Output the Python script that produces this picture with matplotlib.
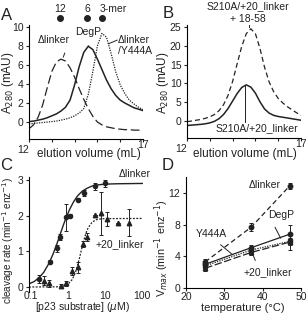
import numpy as np
import matplotlib
matplotlib.use("Agg")
import matplotlib.pyplot as plt

plt.rcParams["font.family"] = ["Liberation Sans", "DejaVu Sans"]
plt.rcParams["font.size"] = 7
plt.rcParams["axes.linewidth"] = 0.8
plt.rcParams["xtick.major.width"] = 0.8
plt.rcParams["ytick.major.width"] = 0.8
plt.rcParams["xtick.major.size"] = 2.5
plt.rcParams["ytick.major.size"] = 2.5
plt.rcParams["xtick.major.pad"] = 1.5
plt.rcParams["ytick.major.pad"] = 1.5

INK = "#222222"

# ---- panel A: gel filtration traces ----
vol = [12.0, 12.2, 12.4, 12.6, 12.8, 13.0, 13.2, 13.4, 13.6, 13.8, 14.0, 14.2, 14.4,
       14.6, 14.8, 15.0, 15.2, 15.4, 15.6, 15.8, 16.0, 16.2, 16.4, 16.6, 16.8, 17.0]
a_dlinker = [-0.7, -0.3, 0.5, 1.8, 3.6, 5.3, 6.3, 6.6, 6.4, 5.7, 4.7, 3.5, 2.4,
             1.4, 0.6, 0.0, -0.3, -0.5, -0.6, -0.7, -0.75, -0.8, -0.8, -0.85, -0.85, -0.85]
a_degp = [0.05, 0.1, 0.2, 0.3, 0.45, 0.65, 0.85, 1.15, 1.55, 2.3, 3.9, 5.8, 7.3,
          7.95, 7.6, 6.6, 5.5, 4.4, 3.5, 2.8, 2.3, 2.0, 1.75, 1.5, 1.35, 1.2]
a_y444a = [-0.2, -0.15, -0.1, -0.05, 0.0, 0.05, 0.1, 0.2, 0.3, 0.45, 0.65, 0.95, 1.4,
           2.9, 5.3, 8.0, 9.3, 8.9, 7.2, 5.3, 3.9, 3.0, 2.3, 1.9, 1.55, 1.3]
std_labels = ["12", "6", "3-mer"]
std_elution = [13.36, 14.54, 15.2]

# ---- panel B ----
b_complex = [-0.2, 0.0, 0.2, 0.4, 0.7, 1.1, 1.7, 2.7, 4.3, 6.8, 10.5, 15.2, 19.8,
             23.2, 24.5, 23.2, 19.3, 14.3, 10.4, 7.8, 6.0, 4.8, 3.8, 3.0, 2.2, 1.5]
b_alone = [-1.2, -1.1, -1.0, -0.9, -0.75, -0.5, -0.1, 0.6, 1.7, 3.3, 5.3, 7.3, 8.9,
           9.6, 9.0, 7.4, 5.1, 3.2, 2.1, 1.5, 1.2, 1.0, 0.8, 0.6, 0.4, 0.2]

# ---- panel C: cleavage rate vs substrate ----
c_dl_x = [0.16, 0.33, 0.5, 0.6, 0.9, 1.15, 1.9, 2.7, 5.5, 10]
c_dl_y = [0.22, 0.71, 1.08, 1.4, 1.95, 2.0, 2.45, 2.63, 2.82, 2.9]
c_dl_err = [0.12, 0.05, 0.1, 0.08, 0.37, 0.05, 0.05, 0.08, 0.1, 0.1]
c_20_x = [0.23, 0.3, 0.65, 0.9, 1.3, 1.8, 2.6, 3.3, 5.3, 7.6, 11, 23, 45]
c_20_y = [0.18, 0.1, 0.03, 0.1, 0.45, 0.55, 1.2, 1.4, 2.02, 2.06, 1.9, 1.78, 1.8]
c_20_err = [0.12, 0.1, 0.05, 0.08, 0.1, 0.15, 0.08, 0.1, 0.0, 0.6, 0.2, 0.0, 0.38]
fit_dl_x = [0.088, 0.12, 0.16, 0.22, 0.3, 0.4, 0.5, 0.6, 0.75, 0.9, 1.1, 1.4, 1.8,
            2.4, 3.2, 4.5, 6.5, 10, 20, 106]
fit_dl_y = [0.09, 0.15, 0.25, 0.41, 0.65, 0.94, 1.21, 1.45, 1.74, 1.96, 2.17, 2.38,
            2.55, 2.68, 2.76, 2.83, 2.86, 2.88, 2.89, 2.9]
fit_20_x = [0.088, 0.5, 0.8, 1.0, 1.3, 1.6, 2.0, 2.5, 3.0, 3.5, 4.5, 6, 8, 12, 106]
fit_20_y = [0.0, 0.005, 0.03, 0.08, 0.21, 0.42, 0.78, 1.2, 1.49, 1.66, 1.82, 1.89,
            1.91, 1.915, 1.92]

# ---- panel D: Vmax vs temperature ----
temps = [25, 37, 47]
d_dlinker = [3.3, 7.7, 12.9]
d_dlinker_err = [0.4, 0.5, 0.4]
d_degp = [3.0, 5.1, 6.8]
d_degp_err = [0.3, 0.3, 1.2]
d_y444a = [2.8, 4.8, 5.9]
d_y444a_err = [0.3, 0.3, 0.4]
d_plus20 = [2.5, 4.5, 5.8]
d_plus20_err = [0.3, 0.3, 1.0]

W, H = 306, 313


def fx(px):
    return px / W


def fy(py):
    return 1 - py / H


def clean(ax):
    ax.spines["top"].set_visible(False)
    ax.spines["right"].set_visible(False)
    ax.tick_params(colors=INK, labelsize=7.5)


fig = plt.figure(figsize=(3.06, 3.13), dpi=100)
fig.patch.set_facecolor("white")

axA = fig.add_axes([fx(29), fy(139), 114 / W, 114 / H])
axB = fig.add_axes([fx(187), fy(138), 114 / W, 113 / H])
axC = fig.add_axes([fx(29), fy(292), 114 / W, 115 / H])
axD = fig.add_axes([fx(186), fy(288), 115 / W, 111 / H])

# A
axA.plot(vol, a_dlinker, color=INK, lw=0.9, ls=(0, (7, 3)))
axA.plot(vol, a_degp, color=INK, lw=1.1)
axA.plot(vol, a_y444a, color=INK, lw=0.9, ls=(0, (1, 1)))
axA.set_xlim(12, 17)
axA.set_ylim(-1.78, 10.18)
axA.set_yticks([0, 2, 4, 6, 8, 10])
axA.set_xticks([12, 13, 14, 15, 16, 17])
axA.set_xticklabels(["12", "", "", "", "", "17"])
clean(axA)
axA.plot(std_elution, [10.9] * 3, "o", color=INK, ms=4, clip_on=False)
for lab, v in zip(std_labels, std_elution):
    if lab == "3-mer":
        axA.text(v - 0.12, 11.85, lab, ha="left", va="center", fontsize=7.5, color=INK)
    else:
        axA.text(v, 11.85, lab, ha="center", va="center", fontsize=7.5, color=INK)
axA.annotate("\u0394linker", xy=(13.5, 6.8), xytext=(13.07, 8.6), ha="center",
             va="center", fontsize=7.5, color=INK,
             arrowprops=dict(arrowstyle="-", color=INK, lw=0.7, shrinkA=4, shrinkB=0,
                             relpos=(0.95, 0)))
axA.annotate("DegP", xy=(14.6, 8.0), xytext=(14.6, 9.4), ha="center", va="center",
             fontsize=7.5, color=INK,
             arrowprops=dict(arrowstyle="-", color=INK, lw=0.7, shrinkA=4, shrinkB=0))
axA.annotate("", xy=(15.48, 8.2), xytext=(15.87, 8.6),
             arrowprops=dict(arrowstyle="-", color=INK, lw=0.7, shrinkA=0, shrinkB=0))
axA.text(15.9, 8.6, "\u0394linker", ha="left", va="center", fontsize=7.5, color=INK)
axA.text(15.9, 7.4, "/Y444A", ha="left", va="center", fontsize=7.5, color=INK)

# B
axB.plot(vol, b_complex, color=INK, lw=0.9, ls=(0, (4, 2.5)))
axB.plot(vol, b_alone, color=INK, lw=1.1)
axB.set_xlim(12, 17)
axB.set_ylim(-4.52, 25.5)
axB.set_yticks([0, 5, 10, 15, 20, 25])
axB.set_xticks([12, 13, 14, 15, 16, 17])
axB.set_xticklabels(["12", "", "", "", "", "17"])
clean(axB)
axB.text(14.66, 30.6, "S210A/+20_linker", ha="center", va="center", fontsize=7.5, color=INK)
axB.text(14.66, 27.1, "+ 18-58", ha="center", va="center", fontsize=7.5, color=INK)
axB.plot([14.72, 14.72], [25.6, 24.9], color=INK, lw=0.7, clip_on=False)
axB.plot([14.55, 14.55], [9.2, -0.3], color=INK, lw=0.7)
axB.text(15.05, -1.9, "S210A/+20_linker", ha="center", va="center", fontsize=7.5, color=INK)

for ax in (axA, axB):
    labs = ax.get_xticklabels()
    labs[-1].set_verticalalignment("center")
    labs[0].set_horizontalalignment("right")

# C
axC.set_xscale("log")
axC.plot(fit_dl_x, fit_dl_y, color=INK, lw=1.0)
axC.plot(fit_20_x, fit_20_y, color=INK, lw=0.9, ls=(0, (1.5, 1.2)))
axC.errorbar(c_dl_x, c_dl_y, yerr=c_dl_err, fmt="o", color=INK, ms=3, lw=0.7,
             capsize=1.5, capthick=0.7)
axC.errorbar(c_20_x, c_20_y, yerr=c_20_err, fmt="^", color=INK, ms=3.2, lw=0.7,
             capsize=1.5, capthick=0.7)
axC.set_xlim(0.088, 106)
axC.set_ylim(-0.14, 3.08)
axC.set_yticks([0, 1, 2, 3])
axC.set_xticks([0.1, 1, 10, 100])
axC.set_xticklabels(["0.1", "1", "10", "100"])
axC.minorticks_off()
clean(axC)
axC.spines["bottom"].set_visible(False)
axC.tick_params(axis="x", length=0, pad=-0.5, labelsize=7.5)
axC.text(65, 3.17, "\u0394linker", ha="center", va="center", fontsize=7.5, color=INK)
axC.text(25, 1.2, "+20_linker", ha="center", va="center", fontsize=7.5, color=INK)

# D
axD.errorbar(temps, d_dlinker, yerr=d_dlinker_err, fmt="o", ls=(0, (4, 2.5)),
             color=INK, ms=3.2, lw=0.9, capsize=1.5, capthick=0.7, elinewidth=0.7)
axD.errorbar(temps, d_degp, yerr=d_degp_err, fmt="o", ls="-", color=INK, ms=3.2,
             lw=0.9, capsize=1.5, capthick=0.7, elinewidth=0.7)
axD.errorbar(temps, d_y444a, yerr=d_y444a_err, fmt="s", ls=(0, (1, 1)), color=INK,
             ms=3, lw=0.9, capsize=1.5, capthick=0.7, elinewidth=0.7)
axD.errorbar(temps, d_plus20, yerr=d_plus20_err, fmt="^", ls=(0, (6, 2)), color=INK,
             ms=3.2, lw=0.9, capsize=1.5, capthick=0.7, elinewidth=0.7)
axD.set_xlim(20, 50)
axD.set_ylim(0, 14.05)
axD.set_xticks([20, 30, 40, 50])
axD.set_yticks([0, 4, 8, 12])
clean(axD)
axD.tick_params(axis="x", pad=0.5)
axD.text(40.5, 13.0, "\u0394linker", ha="center", va="center", fontsize=7.5, color=INK)
axD.annotate("DegP", xy=(44.7, 6.3), xytext=(44.9, 9.3), ha="center", va="center",
             fontsize=7.5, color=INK,
             arrowprops=dict(arrowstyle="-", color=INK, lw=0.7, shrinkA=4, shrinkB=0,
                             relpos=(0.1, 0)))
axD.annotate("Y444A", xy=(32.2, 4.2), xytext=(26.5, 6.8), ha="center", va="center",
             fontsize=7.5, color=INK,
             arrowprops=dict(arrowstyle="-", color=INK, lw=0.7, shrinkA=3, shrinkB=0,
                             relpos=(0.6, 0)))
axD.annotate("+20_linker", xy=(37.4, 4.3), xytext=(41.3, 2.0), ha="center",
             va="center", fontsize=7.5, color=INK,
             arrowprops=dict(arrowstyle="-", color=INK, lw=0.7, shrinkA=3, shrinkB=0,
                             relpos=(0.3, 1)))

# axis titles and panel letters
for x, y, s, fs in [(8, 83, "A$_{280}$ (mAU)", 8.5), (163, 83, "A$_{280}$ (mAU)", 8.5),
                    (8, 240, "cleavage rate (min$^{-1}$ enz$^{-1}$)", 7.2),
                    (162, 248, "V$_{max}$ (min$^{-1}$ enz$^{-1}$)", 7.8)]:
    fig.text(fx(x), fy(y), s, rotation=90, ha="center", va="center", fontsize=fs,
             color=INK)
for x, y, s in [(89, 154, "elution volume (mL)"), (245, 154, "elution volume (mL)")]:
    fig.text(fx(x), fy(y), s, ha="center", va="center", fontsize=8.5, color=INK)
fig.text(fx(243), fy(308), "temperature (\u00b0C)", ha="center", va="center",
         fontsize=8, color=INK)
fig.text(fx(83), fy(307.5), "[p23 substrate] ($\\mu$M)", ha="center", va="center",
         fontsize=7.5, color=INK)
for x, y, s in [(7, 15, "A"), (168, 13, "B"), (6, 165, "C"), (168, 166, "D")]:
    fig.text(fx(x), fy(y), s, ha="center", va="center", fontsize=12, color=INK)

fig.savefig("out.png", dpi=100)
